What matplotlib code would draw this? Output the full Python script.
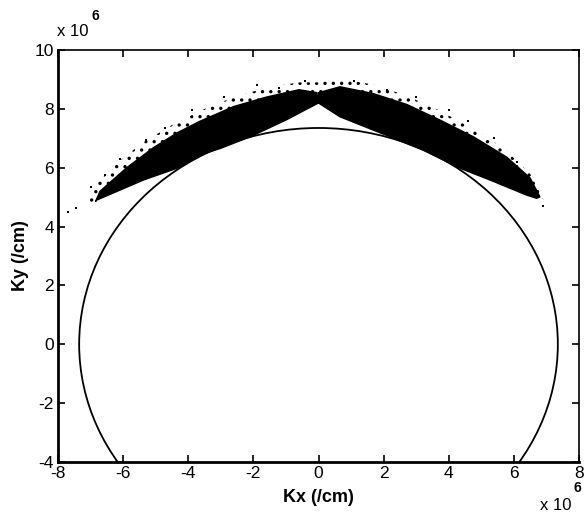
import numpy as np
import matplotlib
matplotlib.use("Agg")
import matplotlib.pyplot as plt
from matplotlib.patches import Polygon, Ellipse

plt.rcParams['font.family'] = ['Liberation Sans', 'DejaVu Sans']
plt.rcParams['hatch.linewidth'] = 1.2

# Values in units of 1e6 /cm
# Circle (isofrequency contour)
circle_center = (0.0, 0.0)
circle_radius = 7.35

# Left wing: dense region outline (upper edge from tip to apex, then lower edge back)
left_upper_x = [-6.85, -6.71, -5.89, -5.07, -4.35, -3.64, -2.60, -1.60, -0.60, -0.05]
left_upper_y = [4.85, 5.20, 6.00, 6.68, 7.18, 7.58, 8.08, 8.40, 8.65, 8.55]
left_lower_x = [0.0, -1.0, -2.1, -3.0, -3.64, -4.35, -5.38, -6.81]
left_lower_y = [8.20, 7.62, 7.05, 6.66, 6.43, 5.98, 5.58, 4.90]

# Right wing: dense region outline
right_upper_x = [0.0, 0.66, 1.68, 2.71, 3.73, 4.76, 5.78, 6.50, 6.80]
right_upper_y = [8.55, 8.75, 8.52, 8.15, 7.62, 7.05, 6.36, 5.65, 5.01]
right_lower_x = [6.70, 6.39, 5.27, 4.35, 3.21, 2.20, 0.66, 0.0]
right_lower_y = [4.96, 5.07, 5.58, 5.98, 6.60, 7.05, 7.73, 8.20]

# Sparse fringe (scattered points) outer envelope
left_fringe_x = [-7.2, -6.9, -6.2, -5.4, -4.5, -3.6, -2.6, -1.6, -0.6, 0.0]
left_fringe_y = [4.75, 5.35, 6.15, 6.85, 7.45, 7.95, 8.40, 8.72, 8.90, 8.90]
right_fringe_x = [0.0, 0.7, 1.7, 2.7, 3.7, 4.7, 5.7, 6.5, 7.0]
right_fringe_y = [8.90, 9.02, 8.82, 8.45, 7.95, 7.35, 6.65, 5.80, 4.85]

# Isolated stray points
stray_x = [-7.68, -7.45, -7.0, -6.55, -6.1, -5.3, -4.7, -3.9, -2.9, -1.9, -1.2, -0.4,
           1.1, 2.1, 3.0, 4.0, 4.6, 5.4, 6.1, 6.6, 6.9]
stray_y = [4.50, 4.62, 5.35, 5.75, 6.30, 6.95, 7.35, 7.95, 8.40, 8.80, 8.70, 8.95,
           8.95, 8.65, 8.40, 7.95, 7.60, 7.00, 6.20, 5.30, 4.70]

xticks = [-8, -6, -4, -2, 0, 2, 4, 6, 8]
yticks = [-4, -2, 0, 2, 4, 6, 8, 10]

fig = plt.figure(figsize=(5.84, 5.16), dpi=100)
ax = fig.add_axes([58/584, 1 - 462/516, 521/584, 412/516])
ax.set_xlim(-8, 8)
ax.set_ylim(-4, 10)

# fringe (stippled)
for fx, fy, ux, uy in [(left_fringe_x, left_fringe_y, left_upper_x, left_upper_y),
                       (right_fringe_x, right_fringe_y, right_upper_x, right_upper_y)]:
    pts = list(zip(fx, fy)) + list(zip(ux[::-1], uy[::-1]))
    ax.add_patch(Polygon(pts, closed=True, facecolor='none', edgecolor='black',
                         hatch='..', linewidth=0, zorder=2))

# dense wings
for ux, uy, lx, ly in [(left_upper_x, left_upper_y, left_lower_x, left_lower_y),
                       (right_upper_x, right_upper_y, right_lower_x, right_lower_y)]:
    pts = list(zip(ux, uy)) + list(zip(lx, ly))
    ax.add_patch(Polygon(pts, closed=True, facecolor='black', edgecolor='black',
                         linewidth=1.0, zorder=3))

ax.scatter(stray_x, stray_y, s=4, c='black', marker='s', linewidths=0, zorder=3)

# circle
ax.add_patch(Ellipse(circle_center, 2 * circle_radius, 2 * circle_radius, fill=False,
                     edgecolor='black', linewidth=1.3, zorder=4))

ax.set_xticks(xticks)
ax.set_yticks(yticks)
ax.set_xticklabels([str(t) for t in xticks])
ax.set_yticklabels([str(t) for t in yticks])
ax.tick_params(direction='in', top=True, right=True, length=5, width=1.2,
               labelsize=12.5, pad=3)
for lab in ax.get_xticklabels() + ax.get_yticklabels():
    lab.set_fontweight('medium')
for side in ['left', 'bottom']:
    ax.spines[side].set_linewidth(2.0)
for side in ['top', 'right']:
    ax.spines[side].set_linewidth(1.2)

ax.set_xlabel('Kx (/cm)', fontsize=13, fontweight='bold', labelpad=6)
ax.set_ylabel('Ky (/cm)', fontsize=13, fontweight='bold', labelpad=4)

# exponent annotations
fig.text(57/584, 1 - 32/516, 'x 10', fontsize=12, va='center', ha='left')
fig.text(92/584, 1 - 16/516, '6', fontsize=10, fontweight='bold', va='center', ha='left')
fig.text(540/584, 1 - 506/516, 'x 10', fontsize=12, va='center', ha='left')
fig.text(573/584, 1 - 488/516, '6', fontsize=10, fontweight='bold', va='center', ha='left')

fig.savefig('out.png', dpi=100)
